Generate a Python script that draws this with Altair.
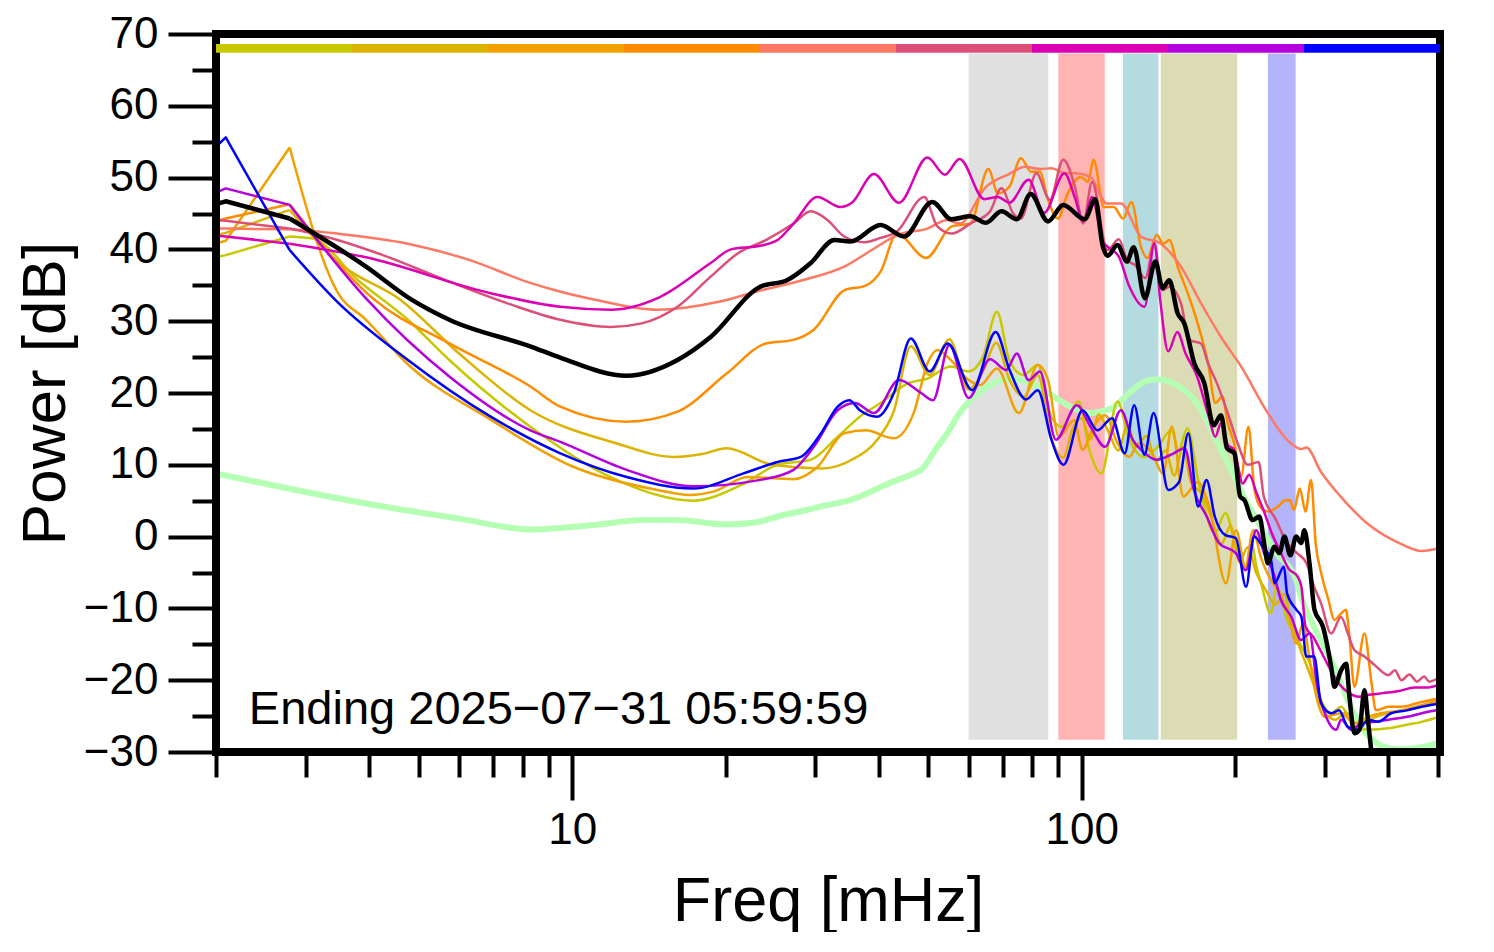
import altair as alt
import pandas as pd

FONT = "Liberation Sans"

# ---------------- series (colour order = top strip order) ----------------
series_names = ["s1", "s2", "s3", "s4", "s5", "s6", "s7", "s8", "s9"]
series_colors = ["#c8c800", "#dcb400", "#f0a000", "#ff8c00", "#ff7864",
                 "#dc5078", "#dc00b4", "#b400dc", "#0000ff"]

f_s1 = [2.0, 2.09, 2.79, 3.1, 3.8, 4.76, 5.74, 8.28, 12.5, 17.3, 21.5, 25.3, 29.4, 33.2, 36.7,
        40.3, 45.5, 49.8, 55.3, 60, 64, 68.2, 72.1, 76.8, 82, 87.2, 91.3, 98.7, 103.5, 109.3,
        117.6, 124.1, 132.8, 141, 150, 155, 161.2, 169.8, 182.5, 191.5, 202, 210, 216, 220, 225,
        235, 241.5, 253, 270, 282, 295, 309, 323, 343, 365, 400, 435, 465, 498]
db_s1 = [38.9, 39.2, 41.8, 41.5, 35.7, 30.2, 24.6, 15.3, 7.6, 5.0, 7.2, 10.0, 10.7, 13.9, 16.7,
         18.6, 21.3, 22.0, 23.7, 23.0, 25.0, 31.3, 24.6, 22.5, 23.9, 16.7, 15.3, 18.8, 12.1, 8.8,
         18.8, 13.5, 11.1, 12.5, 14.8, 12.0, 15.1, 7.4, 0.5, 3.3, -2.3, -4.5, -1.0, -4.0, -6.5,
         -10.7, -7.0, -11.6, -15.3, -18.1, -22.8, -24.6, -23.7, -26.5, -26.9, -26.7, -26.2, -25.8, -25.2]

f_s2 = [2.0, 2.09, 2.79, 3.5, 4.6, 6.0, 8.28, 12.2, 15.8, 18, 20.1, 24.7, 31, 35.4, 39.7,
        42.8, 46.2, 50.3, 55, 60, 64, 68, 72, 77, 82, 87, 92, 96, 100, 104,
        108, 113, 118, 123, 128, 134, 140, 146, 152, 158, 164, 172, 180, 188, 196,
        204, 212, 220, 230, 240, 250, 258, 268, 280, 290, 300, 315, 330, 345, 365,
        390, 420, 455, 480, 505]
db_s2 = [42.0, 42.3, 45.5, 38.0, 33.0, 25.5, 17.6, 13.0, 11.1, 11.5, 12.3, 10.0, 9.5, 10.7, 13.5,
         17.5, 26.5, 22.5, 27.5, 20.5, 23.0, 27.0, 22.0, 19.5, 22.5, 14.0, 11.0, 15.0, 16.5, 13.5,
         17.0, 14.5, 12.0, 15.5, 12.5, 14.0, 10.5, 12.0, 8.5, 12.5, 7.5, 6.0, 2.5, -1.0, 1.5,
         -3.5, -1.5, -5.0, -7.5, -9.5, -8.0, -12.0, -15.5, -19.0, -22.0, -24.5, -25.5, -24.5, -26.0, -25.5,
         -24.8, -24.3, -23.8, -23.3, -22.9]

f_s3 = [2.0, 2.09, 2.79, 3.46, 3.94, 4.76, 6.92, 10, 14.7, 17, 19, 22.1, 27.2, 30.3, 34.2,
        37.7, 42.8, 46.8, 49.8, 52.1, 55, 60, 63.2, 68.2, 75.3, 82, 85.9, 90.2, 96.6, 100.4,
        105.5, 111.2, 117.6, 124.1, 129.3, 137, 144.6, 150.3, 158.4, 169, 178, 192, 201, 209.5, 217,
        225, 235, 245, 255, 264, 272, 280, 290, 300, 323, 343, 365, 387, 424, 464, 498]
db_s3 = [40.8, 41.2, 54.2, 34.1, 30.2, 24.0, 16.3, 9.8, 6.5, 5.8, 6.3, 8.3, 8.0, 9.7, 14.4,
         14.8, 13.7, 17.2, 24.1, 26.0, 24.8, 21.8, 21.1, 23.4, 17.2, 23.9, 21.8, 13.9, 16.2, 12.1,
         15.3, 16.9, 13.0, 11.1, 13.0, 11.8, 8.8, 15.3, 5.6, 7.6, 4.2, -6.5, 0.9, -4.2, 0.9,
         -3.0, -6.0, -8.0, -11.0, -14.9, -12.0, -17.0, -22.8, -25.1, -24.6, -26.0, -25.1, -24.6, -24.2, -23.5, -22.9]

f_s4 = [2.0, 2.09, 2.79, 4.09, 5.74, 8.28, 9.48, 12.8, 16.1, 20.1, 24.0, 27.2, 29.8, 34.2, 37.8,
        40.3, 43.4, 49.5, 55.6, 60.5, 65.6, 68.5, 72.1, 76, 79.6, 82.8, 85.9, 89.8, 93.9, 99.6,
        102.9, 105.5, 110.6, 115.6, 120.6, 125.2, 130.7, 134.5, 140.4, 144.6, 148.6, 154.3, 161.5, 168.9, 177.1,
        183, 189, 193.5, 199.2, 205.5, 212.5, 218.4, 225, 232, 243, 250, 256, 261, 268, 275,
        282, 288, 295, 305, 313, 323, 330, 335, 343, 359, 370, 378, 400, 424, 455, 481, 505]
db_s4 = [43.9, 44.3, 46.3, 33.0, 26.9, 20.9, 18.1, 16.0, 17.4, 22.7, 26.9, 27.4, 28.8, 34.3, 35.0,
         36.9, 42.2, 38.8, 43.2, 43.6, 51.2, 47.8, 48.7, 52.7, 50.8, 50.8, 46.9, 44.3, 47.8, 50.1,
         49.4, 52.5, 45.9, 45.9, 44.3, 46.6, 40.4, 38.8, 42.0, 40.8, 41.3, 37.6, 33.9, 29.7, 24.1,
         18.6, 19.5, 15.8, 13.0, 8.3, 15.3, 6.5, 4.0, 3.5, 4.2, 5.0, 5.1, 3.7, 6.7, 3.5,
         7.9, -1.0, -5.0, -8.8, -11.6, -10.7, -10.2, -13.5, -20.9, -13.5, -20.0, -24.2, -23.7, -23.7, -23.2, -22.8, -22.5]

f_s5 = [2.0, 2.09, 2.79, 3.46, 4.76, 6.3, 8.3, 9.5, 11.1, 14.7, 19.4, 23.5, 28.3, 34.2, 39.7,
        43.4, 49.8, 54.5, 57.6, 64.9, 72, 77.5, 83.2, 87.2, 93, 97.3, 104, 112, 119.4, 130.7,
        143, 156.6, 171.5, 187.7, 205.5, 232, 253, 269.6, 276, 295, 322, 370, 420, 465, 505]
db_s5 = [42.9, 42.9, 42.8, 42.2, 40.8, 38.5, 35.3, 34.1, 33.0, 31.6, 32.7, 34.3, 35.7, 37.6, 40.4,
         42.0, 42.9, 44.1, 43.6, 48.7, 50.5, 51.5, 51.2, 51.3, 50.6, 50.6, 50.1, 46.4, 46.4, 41.8,
         40.8, 37.6, 32.5, 27.8, 23.7, 17.2, 13.5, 12.2, 12.4, 9.0, 5.6, 1.4, -0.9, -2.0, -1.6]

f_s6 = [2.0, 2.09, 2.79, 3.27, 4.33, 5.74, 7.6, 9.48, 11.9, 13.7, 16.1, 18.7, 21.2, 24, 27.2,
        29.4, 31.7, 34.2, 37.5, 40.3, 43.4, 49.1, 52.1, 55.6, 60.5, 66.1, 69.6, 73.4, 76, 81.5,
        86.6, 92, 97, 100.7, 104.8, 112.4, 118.3, 122.9, 127.3, 133.3, 138.8, 144.2, 148.6, 156.6, 162.6,
        171.5, 177.1, 184.9, 193.5, 202.4, 211.9, 222.5, 227.7, 240, 253, 264.6, 276.2, 286, 295, 308.8,
        323, 333, 343, 359, 376, 400, 412, 424, 440, 455, 470, 481, 498]
db_s6 = [44.1, 44.0, 42.9, 41.8, 39.0, 35.5, 32.3, 30.2, 29.2, 29.7, 32.0, 36.2, 39.5, 41.3, 43.6,
         45.3, 44.1, 41.8, 41.0, 41.6, 42.5, 47.3, 43.2, 42.2, 43.6, 45.3, 48.5, 45.0, 44.3, 50.6,
         46.9, 52.5, 48.7, 43.6, 49.4, 39.9, 41.4, 38.5, 37.8, 36.0, 40.6, 34.3, 34.8, 32.5, 27.4,
         26.9, 24.1, 21.1, 17.2, 13.0, 10.0, 10.4, 5.6, 2.5, -0.9, -2.3, -3.7, -7.0, -9.3, -13.5,
         -11.2, -13.5, -15.8, -16.7, -17.9, -19.3, -18.6, -20.0, -19.2, -20.2, -19.5, -20.2, -19.8]

f_s7 = [2.0, 2.09, 2.79, 3.94, 6.92, 9.48, 11.9, 14.9, 18.7, 20.5, 23.4, 25.3, 27.2, 30.3, 33.6,
        35.4, 39.1, 43.8, 49.8, 53.9, 57.6, 64.4, 68.5, 72.1, 78.7, 84.4, 92.5, 96.9, 100.7, 104.8,
        109.9, 112.4, 118.3, 124.1, 132.9, 138.9, 142.6, 147.9, 154.1, 159.9, 168.5, 177.6, 182.9, 187.7, 193.5,
        199.2, 207.1, 213.2, 220.6, 228, 236, 245, 255, 265, 270, 275, 285, 295, 305, 320,
        335, 350, 370, 390, 420, 450, 480, 505]
db_s7 = [41.9, 41.8, 40.8, 38.9, 33.9, 32.0, 31.6, 33.4, 38.1, 40.0, 40.5, 41.3, 43.6, 47.3, 45.9,
         46.5, 50.5, 46.5, 52.8, 50.4, 52.6, 47.0, 47.3, 46.5, 49.7, 45.1, 50.6, 47.3, 43.9, 47.3,
         41.1, 40.4, 39.0, 34.8, 32.0, 40.9, 33.0, 25.8, 28.5, 25.5, 22.3, 16.7, 13.9, 15.8, 12.8,
         12.1, 7.4, 8.6, 6.0, 3.5, 0.5, -2.0, -4.5, -5.5, -7.0, -12.5, -14.0, -16.0, -18.0, -20.5,
         -21.8, -22.3, -22.0, -21.8, -21.5, -21.0, -21.0, -20.6]

f_s8 = [2.0, 2.09, 2.79, 3.96, 5.74, 8.28, 9.48, 12.8, 17.3, 23.4, 27.2, 29.8, 33.2, 35.9, 39.1,
        43.8, 48.4, 51.1, 55, 60, 66.1, 71.1, 74.6, 78.7, 82.8, 89, 97.9, 104.1, 111.2, 119.4,
        125.9, 132.1, 140.4, 151.6, 159.3, 166, 176, 186, 200.7, 210, 220, 228, 238, 246, 258,
        269.6, 280, 290, 300, 316, 323, 338, 354, 376, 400, 435, 465, 498]
db_s8 = [47.9, 48.5, 46.2, 33.0, 22.3, 14.8, 13.2, 9.3, 7.0, 7.9, 9.3, 12.5, 17.6, 18.6, 17.2,
         21.8, 20.0, 19.0, 26.7, 19.3, 24.7, 23.2, 25.5, 21.8, 23.0, 13.5, 18.3, 15.3, 12.5, 17.6,
         13.5, 11.8, 10.7, 11.6, 12.3, 6.5, 2.8, -0.9, -2.3, -4.7, 0.9, -2.3, -5.1, -8.8, -11.2,
         -14.4, -13.5, -20.9, -24.6, -26.9, -25.5, -26.9, -26.0, -25.8, -25.5, -25.1, -24.6, -24.2]

f_s9 = [2.0, 2.09, 2.79, 3.46, 4.76, 6.92, 9.48, 12.8, 17.3, 21.7, 25.3, 28.1, 30.8, 33.2, 35,
        36.7, 39.7, 42.8, 46.2, 50.3, 54.6, 61, 67.8, 72.2, 77.8, 82, 87.2, 92.1, 100.4, 107.4,
        114.7, 121.5, 126.8, 132.8, 138.4, 147.9, 155.3, 161.9, 169.2, 175.8, 182.5, 191.5, 200.7, 210.2, 218,
        226.5, 235.4, 239, 249.5, 253, 264, 270, 276, 286, 295, 309, 320, 333, 349, 365,
        382, 405, 435, 465, 498]
db_s9 = [54.3, 55.6, 39.9, 32.7, 24.6, 16.7, 11.6, 8.3, 6.7, 8.8, 10.4, 11.1, 14.4, 18.1, 19.0,
         17.6, 16.7, 20.0, 27.6, 23.0, 26.9, 20.4, 28.5, 23.2, 19.1, 20.4, 13.5, 10.0, 17.6, 14.8,
         16.5, 11.6, 18.3, 11.4, 17.2, 6.5, 7.6, 14.4, 4.2, 7.9, 2.8, 0.2, -0.2, -7.0, 0.0,
         -1.4, -3.3, -6.5, -4.2, -7.9, -10.2, -11.2, -16.7, -16.7, -23.2, -24.6, -24.2, -26.5, -26.9, -25.5,
         -25.8, -24.6, -24.2, -23.7, -23.3]

f_black = [2.0, 2.09, 2.79, 3.94, 4.84, 5.74, 8.35, 9.5, 12.8, 16.1, 18.7, 23.4, 26.4, 29.4, 32.7,
           35.2, 40.3, 44.8, 50.9, 55.5, 60.5, 64.9, 69.6, 74.6, 79.4, 85.9, 92, 101.4, 106.3, 109.9,
           112.4, 117.6, 122.7, 126.5, 133.1, 139.5, 144.2, 148.6, 154.3, 159, 166.4, 174, 181.6, 187.7, 192.9,
           199.4, 204.6, 208.6, 216.6, 223.2, 228.4, 232, 239, 244.4, 250, 256.8, 263.6, 269.6, 273.6, 280,
           286.4, 297.4, 308.8, 313.4, 323.1, 330.4, 335.4, 343, 350.8, 359, 364.6, 370, 380]
db_black = [46.3, 46.7, 44.3, 37.6, 33.0, 30.2, 26.4, 24.9, 22.4, 24.6, 27.8, 34.8, 35.7, 38.1, 41.3,
            41.1, 43.4, 41.8, 46.6, 44.2, 44.6, 43.7, 45.3, 44.2, 47.7, 43.9, 46.2, 44.2, 47.0, 40.6,
            39.1, 40.6, 38.3, 40.3, 33.2, 38.3, 34.6, 35.7, 31.1, 29.7, 24.1, 21.4, 15.5, 16.9, 12.3,
            11.6, 5.6, 5.1, 2.3, 2.8, -1.2, -3.7, -1.4, -2.3, 0.0, -2.6, 0.0, -0.9, 0.9, -3.7,
            -10.2, -12.5, -18.1, -20.9, -18.6, -17.7, -22.3, -27.4, -26.9, -21.4, -25.5, -29.7, -38]

f_green = [2.0, 3.94, 6.0, 8.28, 9.48, 11.0, 13.8, 16.0, 20.1, 23.0, 25.3, 28.8, 30.8, 35.2, 41.8,
           46.8, 48.4, 52.1, 54.5, 57.6, 60.5, 66.1, 72.1, 80, 87.2, 93.9, 103.5, 114.7, 124, 133,
           140.4, 155.3, 170, 183.5, 195.3, 209.5, 224.5, 241, 263, 269.6, 290, 313, 333, 354, 372,
           405, 430, 465, 498, 505]
db_green = [8.8, 4.6, 2.5, 1.0, 1.2, 1.6, 2.3, 2.3, 1.7, 2.0, 2.8, 3.7, 4.2, 5.1, 7.4,
            8.8, 9.3, 12.5, 14.4, 17.2, 19.0, 21.1, 22.0, 21.3, 19.7, 18.3, 17.2, 17.9, 20.0, 21.6,
            21.9, 20.9, 18.1, 13.5, 9.7, 5.1, 1.4, -2.3, -5.9, -8.4, -13.5, -18.1, -22.8, -26.5, -28.3,
            -29.5, -29.6, -29.3, -28.8, -28.6]

# ---------------- shaded frequency bands ----------------
band_lo = [60, 90, 120.5, 143, 232]
band_hi = [86, 111, 141.5, 202, 263]
band_colors = ["#e0e0e0", "#ffb4b4", "#b4dce0", "#dcdcb4", "#b4b4fa"]
band_bottom = -28.3
band_top = 67.3

# ---------------- colour strip at top ----------------
strip_bottom = 67.4
strip_top = 68.6

# ---------------- axes ----------------
x_domain = [2, 505]
y_domain = [-30, 70]
x_major = [10, 100]
x_minor = [2, 3, 4, 5, 6, 7, 8, 9, 20, 30, 40, 50, 60, 70, 80, 90, 200, 300, 400, 500]
y_major = [-30, -20, -10, 0, 10, 20, 30, 40, 50, 60, 70]
y_minor = [-25, -15, -5, 5, 15, 25, 35, 45, 55, 65]

stamp_text = "Ending 2025\u221207\u221231 05:59:59"
stamp_f = 2.32
stamp_db = -26.1

# ---------------- build tables ----------------
f_all = [f_s1, f_s2, f_s3, f_s4, f_s5, f_s6, f_s7, f_s8, f_s9]
db_all = [db_s1, db_s2, db_s3, db_s4, db_s5, db_s6, db_s7, db_s8, db_s9]
rows = []
for name, fs, ds in zip(series_names, f_all, db_all):
    assert len(fs) == len(ds), name
    for i, (f, d) in enumerate(zip(fs, ds)):
        rows.append({"series": name, "f": f, "db": d, "i": i})
lines_df = pd.DataFrame(rows)
assert len(f_black) == len(db_black)
assert len(f_green) == len(db_green)
black_df = pd.DataFrame({"f": f_black, "db": db_black, "i": range(len(f_black))})
green_df = pd.DataFrame({"f": f_green, "db": db_green})
bands_df = pd.DataFrame({"lo": band_lo, "hi": band_hi, "bot": band_bottom, "top": band_top,
                         "color": band_colors})
strip_df = pd.DataFrame({"k": list(range(9)), "k2": list(range(1, 10)),
                         "lo": strip_bottom, "hi": strip_top, "color": series_colors})
frame_df = pd.DataFrame({"x": [x_domain[0]], "x2": [x_domain[1]], "y": [y_domain[0]], "y2": [y_domain[1]]})
stamp_df = pd.DataFrame({"f": [stamp_f], "db": [stamp_db], "t": [stamp_text]})

xs = alt.Scale(type="log", domain=x_domain, nice=False)
ys = alt.Scale(domain=y_domain, nice=False, zero=False)

ax_x_major = alt.Axis(orient="bottom", values=x_major, format="d", tickSize=48, tickWidth=4,
                      tickColor="black", labelFont=FONT, labelFontSize=44, labelColor="black",
                      labelPadding=8, labelFlush=False, labelOverlap=False, domain=False, grid=False,
                      title="Freq [mHz]", titleFont=FONT, titleFontSize=63, titleFontWeight="normal",
                      titleColor="black", titleY=168, titleBaseline="alphabetic")
ax_x_minor = alt.Axis(orient="bottom", values=x_minor, tickSize=25, tickWidth=4, tickColor="black",
                      labels=False, domain=False, grid=False, title=None)
ax_y_major = alt.Axis(orient="left", values=y_major, tickSize=48, tickWidth=4, tickColor="black",
                      labelFont=FONT, labelFontSize=44, labelColor="black", labelPadding=10,
                      labelFlush=False, labelOverlap=False, domain=False, grid=False,
                      title="Power [dB]", titleFont=FONT, titleFontSize=62, titleFontWeight="normal",
                      titleColor="black", titleAngle=270, titleX=-152, titleY=359,
                      titleAlign="center", titleBaseline="alphabetic")
ax_y_minor = alt.Axis(orient="left", values=y_minor, tickSize=24, tickWidth=4, tickColor="black",
                      labels=False, domain=False, grid=False, title=None)

bands = alt.Chart(bands_df).mark_rect().encode(
    x=alt.X("lo:Q", scale=xs, axis=ax_x_minor), x2="hi:Q",
    y=alt.Y("bot:Q", scale=ys, axis=ax_y_minor), y2="top:Q",
    color=alt.Color("color:N", scale=None))

green = alt.Chart(green_df).mark_line(color="#b4ffb4", strokeWidth=6, interpolate="monotone",
                                      clip=True, strokeJoin="round").encode(
    x=alt.X("f:Q", scale=xs, axis=None), y=alt.Y("db:Q", scale=ys, axis=None))

col_enc = alt.Color("series:N", scale=alt.Scale(domain=series_names, range=series_colors), legend=None)

col_lin = alt.Chart(lines_df).transform_filter("datum.i <= 2").mark_line(
    strokeWidth=2.5, clip=True, strokeJoin="round").encode(
    x=alt.X("f:Q", scale=xs, axis=None), y=alt.Y("db:Q", scale=ys, axis=None), color=col_enc)

col_mono = alt.Chart(lines_df).transform_filter("datum.i >= 2").mark_line(
    strokeWidth=2.5, clip=True, strokeJoin="round", interpolate="monotone").encode(
    x=alt.X("f:Q", scale=xs, axis=None), y=alt.Y("db:Q", scale=ys, axis=None), color=col_enc)

blk_lin = alt.Chart(black_df).transform_filter("datum.i <= 2").mark_line(
    color="black", strokeWidth=4.5, clip=True, strokeJoin="round").encode(
    x=alt.X("f:Q", scale=xs, axis=None), y=alt.Y("db:Q", scale=ys, axis=None))

blk_mono = alt.Chart(black_df).transform_filter("datum.i >= 2").mark_line(
    color="black", strokeWidth=4.5, clip=True, strokeJoin="round", interpolate="monotone").encode(
    x=alt.X("f:Q", scale=xs, axis=ax_x_major), y=alt.Y("db:Q", scale=ys, axis=ax_y_major))

stamp = alt.Chart(stamp_df).mark_text(align="left", baseline="alphabetic", font=FONT,
                                      fontSize=47, color="black").encode(
    x=alt.X("f:Q", scale=xs, axis=None), y=alt.Y("db:Q", scale=ys, axis=None), text="t:N")

frame = alt.Chart(frame_df).mark_rect(fillOpacity=0, stroke="black", strokeWidth=8).encode(
    x=alt.X("x:Q", scale=xs, axis=None), x2="x2:Q",
    y=alt.Y("y:Q", scale=ys, axis=None), y2="y2:Q")

inner = alt.layer(bands, green, col_lin, col_mono, blk_lin, blk_mono, stamp, frame).resolve_axis(
    x="independent", y="independent")

strip = alt.Chart(strip_df).mark_rect().encode(
    x=alt.X("k:Q", scale=alt.Scale(domain=[0, 9], nice=False, zero=False), axis=None), x2="k2:Q",
    y=alt.Y("lo:Q", scale=ys, axis=None), y2="hi:Q",
    color=alt.Color("color:N", scale=None))

chart = alt.layer(inner, strip).resolve_scale(x="independent").resolve_axis(
    x="independent", y="independent").properties(
    width=1224, height=718,
    padding={"left": 208, "top": 26, "right": 40, "bottom": 180},
    autosize=alt.AutoSizeParams(type="none"),
    background="white",
).configure_view(strokeWidth=0)

chart.save("out.html", embed_options={"renderer": "svg", "actions": False})
